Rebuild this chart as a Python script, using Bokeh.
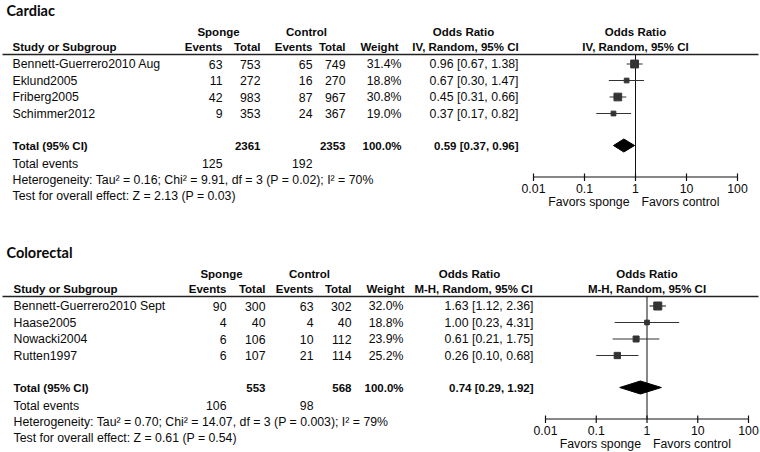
from bokeh.plotting import figure
from bokeh.models import Range1d, LogScale, ColumnDataSource
from bokeh.core.properties import value
from bokeh.embed import file_html
from bokeh.resources import INLINE

# ---------------- data ----------------
cardiac_title = "Cardiac"
cardiac_method = "IV, Random, 95% CI"
cardiac_studies = ["Bennett-Guerrero2010 Aug", "Eklund2005", "Friberg2005", "Schimmer2012"]
cardiac_sponge_events = [63, 11, 42, 9]
cardiac_sponge_total = [753, 272, 983, 353]
cardiac_control_events = [65, 16, 87, 24]
cardiac_control_total = [749, 270, 967, 367]
cardiac_weight = [31.4, 18.8, 30.8, 19.0]
cardiac_or = [0.96, 0.67, 0.45, 0.37]
cardiac_lo = [0.67, 0.30, 0.31, 0.17]
cardiac_hi = [1.38, 1.47, 0.66, 0.82]
cardiac_pooled = [0.59, 0.37, 0.96]
cardiac_total_weight = 100.0
cardiac_het = "Heterogeneity: Tau\u00b2 = 0.16; Chi\u00b2 = 9.91, df = 3 (P = 0.02); I\u00b2 = 70%"
cardiac_test = "Test for overall effect: Z = 2.13 (P = 0.03)"

colorectal_title = "Colorectal"
colorectal_method = "M-H, Random, 95% CI"
colorectal_studies = ["Bennett-Guerrero2010 Sept", "Haase2005", "Nowacki2004", "Rutten1997"]
colorectal_sponge_events = [90, 4, 6, 6]
colorectal_sponge_total = [300, 40, 106, 107]
colorectal_control_events = [63, 4, 10, 21]
colorectal_control_total = [302, 40, 112, 114]
colorectal_weight = [32.0, 18.8, 23.9, 25.2]
colorectal_or = [1.63, 1.00, 0.61, 0.26]
colorectal_lo = [1.12, 0.23, 0.21, 0.10]
colorectal_hi = [2.36, 4.31, 1.75, 0.68]
colorectal_pooled = [0.74, 0.29, 1.92]
colorectal_total_weight = 100.0
colorectal_het = "Heterogeneity: Tau\u00b2 = 0.70; Chi\u00b2 = 14.07, df = 3 (P = 0.003); I\u00b2 = 79%"
colorectal_test = "Test for overall effect: Z = 0.61 (P = 0.54)"

tick_values = [0.01, 0.1, 1, 10, 100]
tick_labels = ["0.01", "0.1", "1", "10", "100"]
favors_left = "Favors sponge"
favors_right = "Favors control"
null_value = 1

# ---------------- canvas ----------------
X0, X1 = 0, 760
Y0, Y1 = 0, 452
W, H = 760, 452

p = figure(width=W, height=H, x_range=Range1d(X0, X1), y_range=Range1d(Y1, Y0),
           output_backend="svg", toolbar_location=None, min_border=0)
p.axis.visible = False
p.grid.visible = False
p.outline_line_color = None
p.background_fill_color = "white"
p.border_fill_color = "white"


def log_range(px_lo, px_hi):
    span = px_hi - px_lo
    lo = 10 ** (-2 + (X0 - px_lo) / span * 4)
    hi = 10 ** (-2 + (X1 - px_lo) / span * 4)
    return Range1d(lo, hi)


p.extra_x_ranges = {"cardiac": log_range(533, 737), "colorectal": log_range(545, 748)}
p.extra_x_scales = {"cardiac": LogScale(), "colorectal": LogScale()}

FONT = value("Liberation Sans")
INK = "#0a0a0a"
BOLD_SIZE = "11.5px"
REG_SIZE = "12.3px"


def txt(xs, ys, labels, align="left", bold=False, size=None, font=FONT,
        range_name="default", x_offset=0):
    if size is None:
        size = BOLD_SIZE if bold else REG_SIZE
    src = ColumnDataSource(dict(x=list(xs), y=list(ys), t=list(labels)))
    p.text(x="x", y="y", text="t", source=src, text_align=align, text_baseline="middle",
           text_font=font, text_font_size=size,
           text_font_style="bold" if bold else "normal",
           text_color=INK, x_range_name=range_name, x_offset=x_offset)


def section(y0, title, method, studies, se, st, ce, ct, wt, ors, los, his, pooled,
            total_w, het, test, cols, rname):
    n = len(studies)
    row_y = [y0 + 63.5 + 16.5 * i for i in range(n)]
    y_total = y0 + 145
    # title
    txt([6], [y0 + 9.5], [title], bold=True, size="14.5px", font=value("Lato"))
    # group headers
    txt([cols["sp"], cols["co"]], [y0 + 31] * 2, ["Sponge", "Control"], align="center", bold=True)
    txt([cols["orh"]], [y0 + 31], ["Odds Ratio"], align="center", bold=True)
    txt([cols["orm"]], [y0 + 46.5], [method], align="center", bold=True)
    txt([null_value], [y0 + 31], ["Odds Ratio"], align="center", bold=True, range_name=rname)
    txt([null_value], [y0 + 46.5], [method], align="center", bold=True, range_name=rname)
    txt([cols["name"]], [y0 + 46.5], ["Study or Subgroup"], bold=True)
    txt([cols["ev1"], cols["tot1"], cols["ev2"], cols["tot2"], cols["wth"]], [y0 + 46.5] * 5,
        ["Events", "Total", "Events", "Total", "Weight"], align="right", bold=True)
    # header rule
    p.segment(x0=[2], x1=[758], y0=[y0 + 54], y1=[y0 + 54], line_color="#222222", line_width=1.6)
    # study rows
    txt([cols["name"]] * n, row_y, studies)
    txt([cols["ev1"]] * n, row_y, [str(v) for v in se], align="right")
    txt([cols["tot1"]] * n, row_y, [str(v) for v in st], align="right")
    txt([cols["ev2"]] * n, row_y, [str(v) for v in ce], align="right")
    txt([cols["tot2"]] * n, row_y, [str(v) for v in ct], align="right")
    txt([cols["wt"]] * n, row_y, [f"{w:.1f}%" for w in wt], align="right")
    txt([cols["or"]] * n, row_y, [f"{o:.2f} [{l:.2f}, {h:.2f}]" for o, l, h in zip(ors, los, his)],
        align="right")
    # total row
    txt([cols["name"]], [y_total], ["Total (95% CI)"], bold=True)
    txt([cols["tot1"], cols["tot2"], cols["wt"]], [y_total] * 3,
        [str(sum(st)), str(sum(ct)), f"{total_w:.1f}%"], align="right", bold=True)
    txt([cols["or"]], [y_total], [f"{pooled[0]:.2f} [{pooled[1]:.2f}, {pooled[2]:.2f}]"],
        align="right", bold=True)
    txt([cols["name"]], [y0 + 163], ["Total events"])
    txt([cols["ev1"], cols["ev2"]], [y0 + 163] * 2, [str(sum(se)), str(sum(ce))], align="right")
    txt([cols["name"]], [y0 + 179], [het])
    txt([cols["name"]], [y0 + 195], [test])
    # forest: null line
    axis_y = y0 + 176.5
    p.segment(x0=[null_value], x1=[null_value], y0=[y0 + 54], y1=[axis_y],
              line_color="#111111", line_width=1, x_range_name=rname)
    # CIs
    p.segment(x0=los, x1=his, y0=row_y, y1=row_y, line_color="#333333", line_width=1.2,
              x_range_name=rname)
    p.scatter(x=ors, y=row_y, size=[w * 0.25 for w in wt], marker="square",
              fill_color="#333333", line_color="#333333", x_range_name=rname)
    # pooled diamond
    est, lo, hi = pooled
    h = 6.5
    p.patch(x=[lo, est, hi, est], y=[y_total, y_total - h, y_total, y_total + h],
            fill_color="black", line_color="black", x_range_name=rname)
    # axis
    p.segment(x0=[tick_values[0]], x1=[tick_values[-1]], y0=[axis_y], y1=[axis_y],
              line_color="#111111", line_width=1.2, x_range_name=rname)
    p.segment(x0=tick_values, x1=tick_values, y0=[axis_y - 3.5] * len(tick_values),
              y1=[axis_y + 4] * len(tick_values), line_color="#111111", line_width=1.2,
              x_range_name=rname)
    txt(tick_values, [axis_y + 11.5] * len(tick_values), tick_labels, align="center",
        range_name=rname)
    txt([null_value], [y0 + 201.5], [favors_left], align="right", range_name=rname, x_offset=-6)
    txt([null_value], [y0 + 201.5], [favors_right], align="left", range_name=rname, x_offset=6)


cardiac_cols = dict(name=12, sp=218, co=306, ev1=222, tot1=260, ev2=312, tot2=345,
                    wth=398, wt=401, orh=463, orm=465, **{"or": 518})
colorectal_cols = dict(name=13, sp=221, co=309, ev1=226, tot1=265, ev2=313, tot2=351,
                       wth=404, wt=403, orh=469, orm=473, **{"or": 533})

section(0, cardiac_title, cardiac_method, cardiac_studies, cardiac_sponge_events,
        cardiac_sponge_total, cardiac_control_events, cardiac_control_total, cardiac_weight,
        cardiac_or, cardiac_lo, cardiac_hi, cardiac_pooled, cardiac_total_weight,
        cardiac_het, cardiac_test, cardiac_cols, "cardiac")
section(242, colorectal_title, colorectal_method, colorectal_studies, colorectal_sponge_events,
        colorectal_sponge_total, colorectal_control_events, colorectal_control_total,
        colorectal_weight, colorectal_or, colorectal_lo, colorectal_hi, colorectal_pooled,
        colorectal_total_weight, colorectal_het, colorectal_test, colorectal_cols, "colorectal")

open("out.html", "w").write(file_html(p, INLINE))
